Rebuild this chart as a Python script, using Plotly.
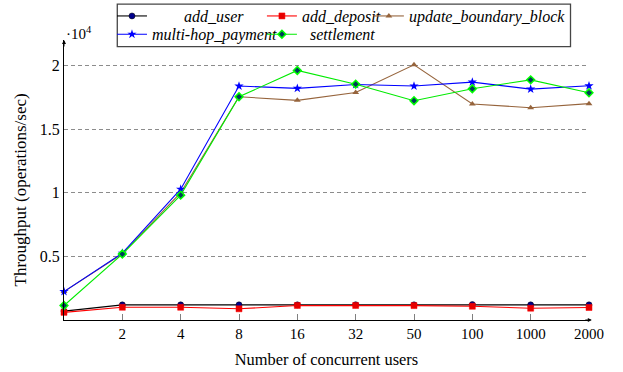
import plotly.graph_objects as go

users = ["1", "2", "4", "8", "16", "32", "50", "100", "1000", "2000"]
add_user = [700, 1190, 1190, 1190, 1190, 1200, 1190, 1215, 1190, 1190]
add_deposit = [600, 1000, 1000, 880, 1140, 1140, 1130, 1080, 925, 980]
update_boundary_block = [2230, 5200, 10000, 17540, 17260, 17880, 20050, 16970, 16680, 17000]
multi_hop_payment = [2230, 5250, 10280, 18380, 18200, 18500, 18380, 18690, 18140, 18400]
settlement = [1140, 5180, 9810, 17540, 19610, 18530, 17230, 18170, 18870, 17850]

y_tickvals = [5000, 10000, 15000, 20000]
y_ticktext = ["0.5", "1", "1.5", "2"]

xpos = list(range(len(users)))
FONT = "serif"
NB = "\u00a0"

# plot area geometry (pixels)
L, R, T, B = 64, 589.2, 40, 320.5
W, H = 623, 372
def px(xp):
    return (xp - L) / (R - L)
def py(yp):
    return (B - yp) / (B - T)

series = [
    ("add_user", NB * 8 + "add_user", add_user, "black",
     dict(symbol="circle", size=6, color="rgb(0,0,140)", line=dict(color="black", width=0.5)), "legend", 117, 16),
    ("add_deposit", "add_deposit", add_deposit, "red",
     dict(symbol="square", size=6, color="rgb(230,0,0)", line=dict(color="red", width=0.5)), "legend2", 267, 16),
    ("update_boundary_block", "update_boundary_block", update_boundary_block, "rgb(150,100,60)",
     dict(symbol="triangle-up", size=6, color="rgb(150,100,60)"), "legend3", 374, 16),
    ("multi-hop_payment", "multi-hop_payment", multi_hop_payment, "blue",
     dict(symbol="star", size=7, color="blue"), "legend4", 117, 34.3),
    ("settlement", NB * 2 + "settlement", settlement, "rgb(0,235,0)",
     dict(symbol="diamond", size=6, color="rgb(0,60,90)", line=dict(color="rgb(0,255,0)", width=1.5)), "legend5", 267, 34.3),
]

fig = go.Figure()
legend_layouts = {}
for key, label, vals, col, mk, lg, lx, ly in series:
    fig.add_trace(go.Scatter(
        x=xpos, y=vals, name=label, mode="lines+markers",
        line=dict(color=col, width=1.1), marker=mk, cliponaxis=False, legend=lg,
    ))
    legend_layouts[lg] = dict(
        x=px(lx - 5), y=py(ly), xanchor="left", yanchor="middle",
        bgcolor="rgba(0,0,0,0)", borderwidth=0,
        font=dict(family=FONT, size=16, style="italic", color="black"),
        itemwidth=30,
    )

fig.update_layout(
    width=W, height=H,
    margin=dict(l=L, r=W - R, t=T, b=H - B, autoexpand=False),
    paper_bgcolor="white", plot_bgcolor="white",
    font=dict(family=FONT, size=15, color="black"),
    showlegend=True,
    xaxis=dict(
        range=[0, 9], tickvals=xpos[1:], ticktext=users[1:],
        showline=True, linecolor="black", linewidth=1,
        ticks="inside", ticklen=6, tickcolor="gray",
        showgrid=False, zeroline=False,
        title=dict(text="Number of concurrent users", standoff=12, font=dict(family=FONT, size=16.4)),
        tickfont=dict(family=FONT, size=15),
    ),
    yaxis=dict(
        range=[0, 22000], tickvals=y_tickvals, ticktext=y_ticktext,
        showline=True, linecolor="black", linewidth=1,
        ticks="", showgrid=True, gridcolor="rgb(140,140,140)", griddash="4px,3px", gridwidth=1,
        zeroline=False,
        tickfont=dict(family=FONT, size=16),
    ),
    **legend_layouts,
)

# y axis title (placed to match the reference's off-centre position)
fig.add_annotation(xref="paper", yref="paper", x=px(20.7), y=py(190), xanchor="center", yanchor="middle",
                   textangle=-90, showarrow=False, text="Throughput (operations/sec)",
                   font=dict(family=FONT, size=17))

# legend frame
fig.add_shape(type="rect", xref="paper", yref="paper",
              x0=px(117.3), x1=px(570.7), y0=py(46.7), y1=py(4),
              line=dict(color="rgb(70,70,70)", width=1.3), fillcolor="white", layer="above")

# axis arrows
fig.add_annotation(xref="paper", yref="paper", x=0, y=1, ax=0, ay=8,
                   showarrow=True, arrowhead=2, arrowsize=0.8, arrowwidth=1, arrowcolor="black", text="")
fig.add_annotation(xref="paper", yref="paper", x=px(592), y=0, ax=-8, ay=0,
                   showarrow=True, arrowhead=2, arrowsize=0.8, arrowwidth=1, arrowcolor="black", text="")
# exponent label
fig.add_annotation(xref="paper", yref="paper", x=0, y=py(33), xanchor="left", yanchor="middle",
                   xshift=0, showarrow=False, text="·10<sup>4</sup>", font=dict(family=FONT, size=15))

fig.write_html("out.html", config={"displayModeBar": False},
               post_script="document.body.style.margin='0';document.body.style.overflow='hidden';")
